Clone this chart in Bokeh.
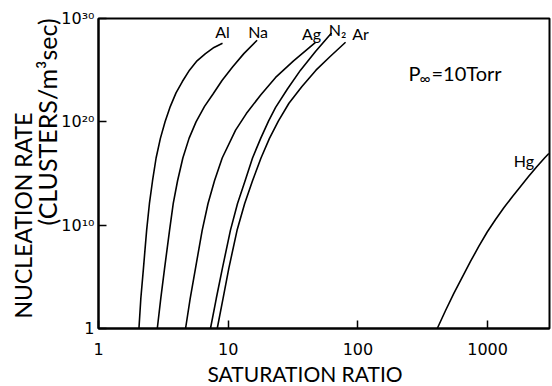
from bokeh.plotting import figure
from bokeh.models import FixedTicker, Label, Title, ColumnDataSource
from bokeh.core.properties import value
from bokeh.embed import file_html
from bokeh.resources import INLINE

# Saturation ratio S and log10 of nucleation rate J (clusters / m^3 s), P_inf = 10 Torr
al_s = [2.05, 2.12, 2.22, 2.35, 2.47, 2.61, 2.78, 3.00, 3.26, 3.58, 3.96, 4.43,
        5.03, 5.75, 6.68, 7.77, 9.04]
al_logj = [0, 2.9, 5.8, 9.5, 12.1, 14.3, 16.5, 18.4, 20.0, 21.5, 22.8, 23.9,
           25.0, 25.9, 26.6, 27.2, 27.6]

na_s = [2.84, 3.02, 3.23, 3.53, 3.77, 4.07, 4.47, 4.99, 5.65, 6.57, 7.64, 8.96,
        10.8, 13.2, 16.7]
na_logj = [0, 2.9, 5.8, 9.5, 12.1, 14.3, 16.5, 18.4, 20.0, 21.5, 22.7, 24.0,
           25.3, 26.6, 27.9]

ag_s = [4.69, 5.09, 5.59, 6.30, 6.99, 7.84, 8.99, 11.4, 13.8, 17.8, 23.2, 31.9, 47.1]
ag_logj = [0, 2.9, 5.8, 9.5, 12.1, 14.3, 16.5, 19.2, 20.8, 22.6, 24.3, 25.9, 27.7]

n2_s = [7.30, 8.09, 9.01, 10.4, 11.8, 13.5, 15.4, 17.8, 20.5, 23.2, 28.7, 36.1,
        47.1, 62.6]
n2_logj = [0, 2.9, 5.8, 9.5, 12.1, 14.3, 16.5, 18.4, 20.1, 21.4, 23.2, 25.0,
           26.8, 28.6]

ar_s = [8.23, 9.12, 10.1, 11.7, 13.4, 15.4, 17.9, 20.8, 24.4, 29.4, 36.9, 47.5,
        60.8, 80.3]
ar_logj = [0, 2.9, 5.8, 9.5, 12.1, 14.3, 16.5, 18.4, 20.1, 21.8, 23.4, 25.0,
           26.3, 27.7]

hg_s = [409, 474, 549, 641, 738, 859, 993, 1151, 1338, 1556, 1794, 2067, 2383,
        2747, 2965]
hg_logj = [0, 1.74, 3.39, 5.03, 6.49, 7.99, 9.34, 10.55, 11.71, 12.78, 13.75,
           14.71, 15.63, 16.5, 16.94]

species = ["Al", "Na", "Ag", "N\u2082", "Ar", "Hg"]
curves_s = [al_s, na_s, ag_s, n2_s, ar_s, hg_s]
curves_logj = [al_logj, na_logj, ag_logj, n2_logj, ar_logj, hg_logj]

x_ticks = [1, 10, 100, 1000]
x_tick_labels = ["1", "10", "100", "1000"]
y_ticks = [1.0, 1e10, 1e20, 1e30]
y_tick_labels = ["1", "10\u00b9\u2070", "10\u00b2\u2070", "10\u00b3\u2070"]

FONT = "Lato"
TICK_FONT = "DejaVu Sans"

p = figure(width=552, height=386, x_axis_type="log", y_axis_type="log",
           x_range=(1, 3000), y_range=(1, 1e30),
           output_backend="svg", toolbar_location=None,
           min_border_left=98, min_border_right=3,
           min_border_top=18, min_border_bottom=58)
p.background_fill_color = "white"
p.border_fill_color = "white"
p.outline_line_color = "black"
p.outline_line_width = 2
p.outline_line_alpha = 1.0
p.xgrid.visible = False
p.ygrid.visible = False

p.xaxis.ticker = FixedTicker(ticks=x_ticks, minor_ticks=[])
p.yaxis.ticker = FixedTicker(ticks=y_ticks, minor_ticks=[])
p.xaxis.major_label_overrides = {float(t): lab for t, lab in zip(x_ticks, x_tick_labels)}
p.yaxis.major_label_overrides = {float(t): lab for t, lab in zip(y_ticks, y_tick_labels)}

for ax in (p.xaxis[0], p.yaxis[0]):
    ax.axis_line_width = 2
    ax.axis_line_color = "black"
    ax.major_tick_in = 8
    ax.major_tick_out = 0
    ax.major_tick_line_width = 1.5
    ax.minor_tick_in = 0
    ax.minor_tick_out = 0
    ax.major_label_text_font = TICK_FONT
    ax.major_label_text_font_size = "16px"
    ax.major_label_text_color = "black"
p.xaxis.major_label_standoff = 14
p.yaxis.major_label_standoff = 4

# nucleation-rate curves
for s_vals, logj in zip(curves_s, curves_logj):
    j_vals = [10.0 ** e for e in logj]
    p.line(s_vals, j_vals, line_color="black", line_width=1.6)

# species names placed just above each curve's upper end
name_dx = [0, 1, -4, 6, 15, -25]
name_dy = [-12, -9, -9, -3, -9, 7]
names = ColumnDataSource(dict(
    x=[c[-1] for c in curves_s],
    y=[10.0 ** c[-1] for c in curves_logj],
    text=species, dx=name_dx, dy=name_dy))
p.text(x="x", y="y", text="text", x_offset="dx", y_offset="dy", source=names,
       text_font=value(FONT), text_font_size="16px", text_color="black",
       text_align="center", text_baseline="middle")

# two-line y-axis title, stacked outward from the tick labels;
# align="left" anchors each line at the bottom of the frame, offset moves it up,
# a negative standoff packs the two lines closer together
p.add_layout(Title(text="(CLUSTERS/m\u00b3sec)", align="left", offset=103,
                   standoff=-7, text_font=FONT, text_font_size="25px",
                   text_font_style="normal", text_color="black"), "left")
p.add_layout(Title(text="NUCLEATION RATE", align="left", offset=10,
                   standoff=-7, text_font=FONT, text_font_size="23px",
                   text_font_style="normal", text_color="black"), "left")
p.add_layout(Title(text="SATURATION RATIO", align="left", offset=109,
                   standoff=2, text_font=FONT, text_font_size="21px",
                   text_font_style="normal", text_color="black"), "below")

# pressure annotation: P with an infinity subscript
p.add_layout(Label(x=1, y=1, x_offset=310, y_offset=256, text="P",
                   text_font=FONT, text_font_size="20px",
                   text_align="left", text_baseline="middle", text_color="black"))
p.add_layout(Label(x=1, y=1, x_offset=321, y_offset=251, text="\u221e",
                   text_font=FONT, text_font_size="15px",
                   text_align="left", text_baseline="middle", text_color="black"))
p.add_layout(Label(x=1, y=1, x_offset=333, y_offset=256, text="=10Torr",
                   text_font=FONT, text_font_size="20px",
                   text_align="left", text_baseline="middle", text_color="black"))

open("out.html", "w").write(file_html(p, INLINE))
